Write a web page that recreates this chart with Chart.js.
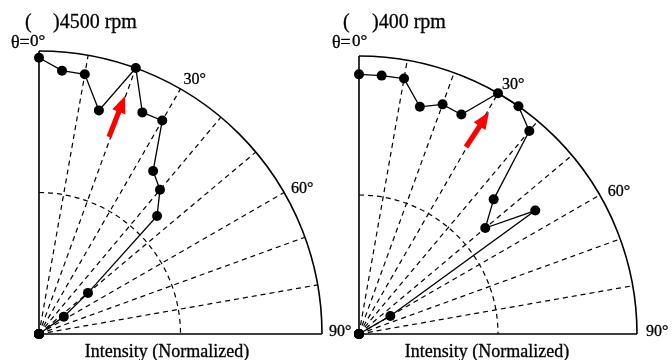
<!DOCTYPE html>
<html>
<head>
<meta charset="utf-8">
<script src="https://cdn.jsdelivr.net/npm/chart.js@4.4.0/dist/chart.umd.min.js"></script>
<style>
  html, body { margin: 0; padding: 0; background: #fff; }
  #wrap { position: relative; width: 672px; height: 360px; overflow: hidden; background: #fff; }
  .panel { position: absolute; }
</style>
</head>
<body>
<div id="wrap">
  <div class="panel" style="left:-304px;top:-9px;width:686px;height:686px"><canvas id="left" width="686" height="686"></canvas></div>
  <div class="panel" style="left:21px;top:-4px;width:676px;height:676px"><canvas id="right" width="676" height="676"></canvas></div>
</div>
<script>
// angle in degrees from the vertical axis, intensity normalized
var angles = [0, 5, 10, 15, 20, 25, 30, 35, 40, 45, 50, 55, 60, 65, 70, 75, 80, 85, 90];
var intensity4500 = [0.976, 0.934, 0.932, 0.818, 1.0, 0.864, 0.871, 0.703, 0.665, 0.59, 0.226, 0.107, 0, 0, 0, 0, 0, 0, 0];
var intensity400 = [0.934, 0.933, 0.933, 0.846, 0.879, 0.871, 1.0, 1.0, 0.953, 0.685, 0.593, 0.774, 0.13, 0, 0, 0, 0, 0, 0];
var gridAngles = [10, 20, 30, 40, 50, 60, 70, 80];
var angleTicks = [30, 60];

var FONT = '"Liberation Serif", "Times New Roman", serif';

// radar needs the whole circle, every 5 degrees; only the first quarter carries data
var circleLabels = [];
for (var a = 0; a < 360; a += 5) circleLabels.push(a);

function padToCircle(values) {
   return circleLabels.map(function(deg) {
      var i = angles.indexOf(deg);
      return i >= 0 ? values[i] : null;
   });
}

var quarterFrame = {
   id: 'quarterFrame',
   beforeDatasetsDraw: function(chart) {
      var s = chart.scales.r;
      var ctx = chart.ctx;
      var cx = s.xCenter, cy = s.yCenter;
      var R = s.getDistanceFromCenterForValue(1);
      var half = s.getDistanceFromCenterForValue(0.5);

      ctx.save();
      ctx.strokeStyle = '#000';
      ctx.lineWidth = 1.2;
      ctx.setLineDash([5, 4]);
      gridAngles.forEach(function(deg) {
         var t = deg * Math.PI / 180;
         ctx.beginPath();
         ctx.moveTo(cx, cy);
         ctx.lineTo(cx + R * Math.sin(t), cy - R * Math.cos(t));
         ctx.stroke();
      });
      ctx.beginPath();
      ctx.arc(cx, cy, half, -Math.PI / 2, 0);
      ctx.stroke();

      ctx.setLineDash([]);
      ctx.lineWidth = 1.6;
      ctx.beginPath();
      ctx.moveTo(cx, cy - R);
      ctx.lineTo(cx, cy);
      ctx.lineTo(cx + R, cy);
      ctx.stroke();
      ctx.beginPath();
      ctx.arc(cx, cy, R, -Math.PI / 2, 0);
      ctx.stroke();
      ctx.restore();
   },
   afterDraw: function(chart, args, opts) {
      var s = chart.scales.r;
      var ctx = chart.ctx;
      var cx = s.xCenter, cy = s.yCenter;
      var R = s.getDistanceFromCenterForValue(1);

      ctx.save();
      ctx.fillStyle = '#000';
      ctx.strokeStyle = '#000';
      ctx.lineWidth = 0.3;
      ctx.textBaseline = 'alphabetic';
      ctx.textAlign = 'left';

      function text(str, x, y) {
         ctx.fillText(str, x, y);
         ctx.strokeText(str, x, y);
      }

      ctx.font = '20px ' + FONT;
      text('(', cx + opts.title[0], cy - 306);
      text(')' + opts.titleText, cx + opts.title[1], cy - 306);

      ctx.font = '18px ' + FONT;
      text('\u03b8=', cx + opts.theta[0], cy - 286);
      ctx.font = '17px ' + FONT;
      text('0\u00b0', cx + opts.theta[1], cy - 288);

      ctx.font = '16px ' + FONT;
      angleTicks.forEach(function(deg, i) {
         var t = deg * Math.PI / 180;
         var off = opts.tickOffsets[i];
         text(deg + '\u00b0', cx + R * Math.sin(t) + off[0], cy - R * Math.cos(t) + off[1]);
      });
      text('90\u00b0', cx + R + opts.ninety, cy + 2);

      ctx.textAlign = 'center';
      ctx.font = '18px ' + FONT;
      text('Intensity (Normalized)', cx + opts.xTitle, cy + 23);

      // red arrow pointing at the peak
      var tail = opts.arrow[0], tip = opts.arrow[1];
      var x0 = cx + tail[0], y0 = cy + tail[1], x1 = cx + tip[0], y1 = cy + tip[1];
      var dx = x1 - x0, dy = y1 - y0, len = Math.sqrt(dx * dx + dy * dy);
      var ux = dx / len, uy = dy / len, nx = -uy, ny = ux;
      var head = 17, hw = 7, sw = 2.6;
      var bx = x1 - ux * head, by = y1 - uy * head;
      ctx.fillStyle = '#ff0000';
      ctx.beginPath();
      ctx.moveTo(x0 + nx * sw, y0 + ny * sw);
      ctx.lineTo(bx + nx * sw, by + ny * sw);
      ctx.lineTo(bx + nx * hw, by + ny * hw);
      ctx.lineTo(x1, y1);
      ctx.lineTo(bx - nx * hw, by - ny * hw);
      ctx.lineTo(bx - nx * sw, by - ny * sw);
      ctx.lineTo(x0 - nx * sw, y0 - ny * sw);
      ctx.closePath();
      ctx.fill();
      ctx.restore();
   }
};

function quarterPolar(canvasId, values, frame) {
   var ctx = document.getElementById(canvasId);

   var data = {
      labels: circleLabels,
      datasets: [{
         label: '',
         data: padToCircle(values),
         borderColor: '#000',
         borderWidth: 1.3,
         backgroundColor: '#000',
         pointBackgroundColor: '#000',
         pointBorderColor: '#000',
         pointBorderWidth: 0,
         pointRadius: 5,
         fill: false,
         tension: 0,
         spanGaps: false,
         clip: false
      }]
   };

   var config = {
      type: 'radar',
      data: data,
      plugins: [quarterFrame],
      options: {
         responsive: false,
         animation: false,
         layout: { padding: 60 },
         plugins: {
            legend: { display: false },
            tooltip: { enabled: false },
            quarterFrame: frame
         },
         scales: {
            r: {
               min: 0,
               max: 1,
               startAngle: 0,
               grid: { display: false },
               angleLines: { display: false },
               ticks: { display: false },
               pointLabels: { display: false }
            }
         }
      }
   };

   new Chart(ctx, config);
}

quarterPolar('left', intensity4500, {
   titleText: '4500 rpm',
   title: [-14, 14],
   theta: [-28, -9],
   tickOffsets: [[3, -5], [7, 0]],
   ninety: 7,
   xTitle: 128,
   arrow: [[70, -197], [86, -238]]
});

quarterPolar('right', intensity400, {
   titleText: '400 rpm',
   title: [-16, 13],
   theta: [-27, -7],
   tickOffsets: [[4, -4], [8, 1]],
   ninety: 9,
   xTitle: 128,
   arrow: [[107, -187], [130, -222]]
});
</script>
</body>
</html>
